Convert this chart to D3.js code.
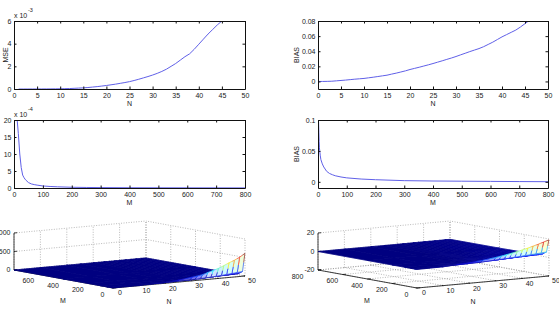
<!DOCTYPE html>
<html><head><meta charset="utf-8">
<script src="https://cdn.jsdelivr.net/npm/d3@7"></script>
<style>
body{margin:0;background:#fff}
svg{display:block}
text{font-family:"Liberation Sans",Arial,sans-serif;font-size:7px;fill:#222}
</style>
</head><body>
<svg id="c" width="559" height="314"></svg>
<script>
// ---------------- data ----------------
// MSE vs N (x 10^-3)
const mseN_N = [1,2,3,4,5,6,7,8,9,10,11,12,13,14,15,16,17,18,19,20,21,22,23,24,25,26,27,28,29,30,31,32,33,34,35,36,37,38,39,40,41,42,43,44,45];
const mseN_V = [0.000,0.000,0.001,0.002,0.003,0.005,0.007,0.010,0.014,0.02,0.03,0.04,0.06,0.08,0.1,0.13,0.17,0.21,0.26,0.31,0.37,0.43,0.50,0.57,0.65,0.75,0.86,0.98,1.1,1.23,1.38,1.55,1.75,2.0,2.25,2.55,2.85,3.1,3.5,3.95,4.4,4.85,5.25,5.65,6.0];
// BIAS vs N
const biasN_N = [0,1,2,3,4,5,6,7,8,9,10,11,12,13,14,15,16,17,18,19,20,21,22,23,24,25,26,27,28,29,30,31,32,33,34,35,36,37,38,39,40,41,42,43,44,45,46];
const biasN_V = [0,0,0.0001,0.0003,0.0008,0.0013,0.0018,0.0024,0.003,0.0035,0.004,0.0048,0.0056,0.0065,0.0074,0.0083,0.0097,0.011,0.0125,0.014,0.0158,0.0173,0.0188,0.0204,0.022,0.0237,0.0255,0.0273,0.0292,0.031,0.033,0.0352,0.0373,0.0395,0.0415,0.0435,0.046,0.049,0.052,0.0555,0.059,0.062,0.065,0.068,0.072,0.0765,0.081];
// MSE vs M (x 10^-4)
const mseM_M = [10,15,20,25,30,35,40,50,60,70,80,100,125,150,200,250,300,400,500,600,700,800];
const mseM_V = [21,16,10,6,3.8,3.0,2.4,1.6,1.2,1.0,0.85,0.6,0.45,0.35,0.22,0.16,0.12,0.08,0.06,0.05,0.04,0.03];
// BIAS vs M
const biasM_M = [1,2,3,4,5,6,8,10,15,20,30,40,50,60,80,100,150,200,300,400,500,600,700,800];
const biasM_V = [0.1,0.097,0.08,0.065,0.055,0.05,0.042,0.036,0.029,0.024,0.017,0.0135,0.0115,0.0098,0.0078,0.0064,0.0045,0.0034,0.0019,0.0013,0.001,0.0007,0.0004,0.0002];

// 3D surfaces: rows = M grid, columns = N grid
const surfM = [1,20,50,100,200,400,800];
const surfN = [0,10,20,25,30,32,34,36,38,40,42,44,46,48,50];
const mseSurf = [
  [0,0,20,50,95,115,140,185,225,270,330,395,450,520,610],
  [0,0,2,5,10,14,20,28,36,45,55,68,80,95,110],
  [0,0,1,2,4,5,7,9,12,15,18,22,26,31,36],
  [0,0,0,1,2,2,3,4,5,6,8,10,12,14,17],
  [0,0,0,0,1,1,1,2,2,3,4,5,6,7,8],
  [0,0,0,0,0,0,1,1,1,1,2,2,3,3,4],
  [0,0,0,0,0,0,0,0,0,1,1,1,1,2,2]
];
const biasSurf = [
  [0,0.3,1.9,3.4,5.3,6.2,7.2,8.3,9.5,10.8,12.2,13.8,15.4,17.2,19],
  [0,0.1,0.6,1,1.6,1.9,2.2,2.5,2.9,3.3,3.7,4.1,4.5,5,5.5],
  [0,0,0.3,0.5,0.8,0.9,1,1.2,1.4,1.6,1.8,2,2.2,2.4,2.7],
  [0,0,0.1,0.2,0.4,0.5,0.5,0.6,0.7,0.8,0.9,1,1.1,1.2,1.4],
  [0,0,0,0.1,0.2,0.2,0.3,0.3,0.4,0.4,0.5,0.5,0.6,0.6,0.7],
  [0,0,0,0,0.1,0.1,0.1,0.1,0.2,0.2,0.2,0.3,0.3,0.3,0.4],
  [0,0,0,0,0,0,0,0.1,0.1,0.1,0.1,0.1,0.1,0.2,0.2]
];

// tick values
const ticksN = [0,5,10,15,20,25,30,35,40,45,50];
const ticksM = [0,100,200,300,400,500,600,700,800];
const ticksMseN = [0,2,4,6];
const ticksBiasN = [0,0.02,0.04,0.06,0.08];
const ticksMseM = [0,5,10,15,20];
const ticksBiasM = [0,0.05,0.1];
const ticks3M = [0,200,400,600,800];
const ticks3N = [0,10,20,30,40,50];
const ticksMseZ = [0,500,1000];
const ticksBiasZ = [-20,0,20];

// ---------------- drawing ----------------
const svg = d3.select("#c");
const FONT = '"Liberation Sans",Arial,sans-serif';
let cid = 0;
const numFmt = d => String(+(+d).toFixed(4));

function panel2D(o){
  const x = d3.scaleLinear().domain(o.xd).range([o.x0,o.x1]);
  const y = d3.scaleLinear().domain(o.yd).range([o.y1,o.y0]);
  const g = svg.append("g");
  const id = "clip"+(cid++);
  svg.append("clipPath").attr("id",id).append("rect")
    .attr("x",o.x0).attr("y",o.y0).attr("width",o.x1-o.x0).attr("height",o.y1-o.y0);
  g.append("path").datum(d3.zip(o.xv,o.yv))
    .attr("clip-path",`url(#${id})`)
    .attr("d",d3.line().x(d=>x(d[0])).y(d=>y(d[1])))
    .attr("fill","none").attr("stroke","#6060e8").attr("stroke-width",1);
  const style = s => s.attr("font-size",7).attr("font-family",FONT).attr("color","#111")
      .call(a=>a.selectAll("text").attr("fill","#222"));
  g.append("g").attr("transform",`translate(0,${o.y1})`)
    .call(d3.axisBottom(x).tickValues(o.xt).tickSize(-2.5).tickSizeOuter(0).tickPadding(4).tickFormat(numFmt)).call(style);
  g.append("g").attr("transform",`translate(0,${o.y0})`)
    .call(d3.axisTop(x).tickValues(o.xt).tickSize(-2.5).tickSizeOuter(0).tickFormat("")).call(style);
  g.append("g").attr("transform",`translate(${o.x0},0)`)
    .call(d3.axisLeft(y).tickValues(o.yt).tickSize(-2.5).tickSizeOuter(0).tickPadding(2.5).tickFormat(numFmt)).call(style);
  g.append("g").attr("transform",`translate(${o.x1},0)`)
    .call(d3.axisRight(y).tickValues(o.yt).tickSize(-2.5).tickSizeOuter(0).tickFormat("")).call(style);
  if(o.xlab) g.append("text").attr("x",(o.x0+o.x1)/2).attr("y",o.y1+16.5).attr("text-anchor","middle").text(o.xlab);
  if(o.ylab) g.append("text").attr("transform",`translate(${o.ylabX},${(o.y0+o.y1)/2}) rotate(-90)`).attr("text-anchor","middle").text(o.ylab);
  if(o.exp){
    g.append("text").attr("x",o.x0).attr("y",o.y0-3.5).text("x 10");
    g.append("text").attr("x",o.x0+14).attr("y",o.y0-9).attr("font-size",5.5).style("font-size","5.5px").text(o.exp);
  }
}

panel2D({x0:14,x1:245,y0:21,y1:89,xd:[0,50],yd:[0,6],xt:ticksN,yt:ticksMseN,xv:mseN_N,yv:mseN_V,xlab:"N",ylab:"MSE",ylabX:8,exp:"-3"});
panel2D({x0:318,x1:548,y0:21,y1:89,xd:[0,50],yd:[-0.01,0.08],xt:ticksN,yt:ticksBiasN,xv:biasN_N,yv:biasN_V,xlab:"N",ylab:"BIAS",ylabX:299});
panel2D({x0:14,x1:245,y0:120,y1:188,xd:[0,800],yd:[0,20],xt:ticksM,yt:ticksMseM,xv:mseM_M,yv:mseM_V,xlab:"M",exp:"-4"});
panel2D({x0:318,x1:548,y0:120,y1:188,xd:[0,800],yd:[-0.01,0.1],xt:ticksM,yt:ticksBiasM,xv:biasM_M,yv:biasM_V,xlab:"M",ylab:"BIAS",ylabX:299});

function jet(t){
  t = Math.max(0,Math.min(1,t));
  const c = v => Math.round(255*Math.max(0,Math.min(1,v)));
  return d3.rgb(c(1.5-Math.abs(4*t-3)), c(1.5-Math.abs(4*t-2)), c(1.5-Math.abs(4*t-1)));
}

function panel3D(o){
  const mx = d3.scaleLinear().domain([0,800]).range([0,-99]);
  const my = d3.scaleLinear().domain([0,800]).range([0,-18]);
  const nx = d3.scaleLinear().domain([0,50]).range([0,132]);
  const ny = d3.scaleLinear().domain([0,50]).range([0,-12]);
  const zs = d3.scaleLinear().domain(o.zd).range([0,-37]);
  const P = (M,N,z) => [o.ox+mx(M)+nx(N), o.oy+my(M)+ny(N)+zs(z)];
  const g = svg.append("g");
  const z0 = o.zd[0], z1 = o.zd[1];
  const Mmax = 800, Nmax = 50;
  const seg = (a,b,cls) => g.append("line").attr("x1",a[0]).attr("y1",a[1]).attr("x2",b[0]).attr("y2",b[1])
      .attr("stroke",cls==="grid"?"#8a8a8a":"#111").attr("stroke-width",cls==="grid"?0.6:0.8)
      .attr("stroke-dasharray",cls==="grid"?"1,1.5":null);
  // grids
  ticks3M.forEach(M=>{ seg(P(M,0,z0),P(M,Nmax,z0),"grid"); seg(P(M,Nmax,z0),P(M,Nmax,z1),"grid"); });
  ticks3N.forEach(N=>{ seg(P(0,N,z0),P(Mmax,N,z0),"grid"); seg(P(Mmax,N,z0),P(Mmax,N,z1),"grid"); });
  o.zt.forEach(z=>{ seg(P(Mmax,0,z),P(Mmax,Nmax,z),"grid"); seg(P(0,Nmax,z),P(Mmax,Nmax,z),"grid"); });
  // axes
  seg(P(Mmax,0,z0),P(Mmax,0,z1),"axis");
  seg(P(0,0,z0),P(Mmax,0,z0),"axis");
  seg(P(0,0,z0),P(0,Nmax,z0),"axis");
  o.zt.forEach(z=>seg(P(Mmax,0,z),P(Mmax,1.2,z),"axis"));
  ticks3M.forEach(M=>seg(P(M,0,z0),P(M,1.2,z0),"axis"));
  ticks3N.forEach(N=>seg(P(0,N,z0),P(12,N,z0),"axis"));
  // surface
  const flat = o.Z.flat();
  const vmin = d3.min(flat), vmax = d3.max(flat);
  const norm = v => (v-vmin)/(vmax-vmin);
  const quads = [];
  for(let i=0;i<o.Mg.length-1;i++) for(let j=0;j<o.Ng.length-1;j++){
    const v = [[i,j],[i+1,j],[i+1,j+1],[i,j+1]].map(([a,b])=>({M:o.Mg[a],N:o.Ng[b],z:o.Z[a][b]}));
    const depth = P(d3.mean(v,d=>d.M), d3.mean(v,d=>d.N), z0)[1];
    quads.push({v,depth});
  }
  quads.sort((a,b)=>a.depth-b.depth);
  const sg = g.append("g");
  quads.forEach(q=>{
    const pts = q.v.map(p=>P(p.M,p.N,p.z));
    const zv = q.v.map(p=>p.z);
    const mean = d3.mean(zv);
    const w = Math.min(0.8, (d3.max(zv)-d3.min(zv))/(vmax-vmin)*2.5);
    const base = jet(norm(mean));
    const fill = d3.interpolateRgb(base,"#ffffff")(w);
    sg.append("polygon").attr("points",pts.map(p=>p.join(",")).join(" "))
      .attr("fill",fill).attr("stroke",fill).attr("stroke-width",0.4);
    for(let k=0;k<4;k++){
      const a=q.v[k], b=q.v[(k+1)%4];
      const pa=pts[k], pb=pts[(k+1)%4];
      const mid=[(pa[0]+pb[0])/2,(pa[1]+pb[1])/2];
      sg.append("line").attr("x1",pa[0]).attr("y1",pa[1]).attr("x2",mid[0]).attr("y2",mid[1])
        .attr("stroke",jet(norm(a.z))).attr("stroke-width",0.6);
      sg.append("line").attr("x1",mid[0]).attr("y1",mid[1]).attr("x2",pb[0]).attr("y2",pb[1])
        .attr("stroke",jet(norm(b.z))).attr("stroke-width",0.6);
    }
  });
  // labels
  const lab = g.append("g");
  ticks3M.forEach(M=>{
    const p=P(M,0,z0);
    lab.append("text").attr("x",p[0]-10.5-(M===Mmax?10:0)).attr("y",p[1]+6.5).attr("dy","0.35em").attr("text-anchor","middle").text(M);
  });
  ticks3N.forEach(N=>{
    const p=P(0,N,z0);
    lab.append("text").attr("x",p[0]+7).attr("y",p[1]+5).attr("dy","0.35em").attr("text-anchor","middle").text(N);
  });
  o.zt.forEach(z=>{
    const p=P(Mmax,0,z);
    lab.append("text").attr("x",p[0]-3.5).attr("y",p[1]).attr("dy","0.35em").attr("text-anchor","end").text(z);
  });
  lab.append("text").attr("x",o.ox-50).attr("y",o.oy+13).attr("dy","0.35em").attr("text-anchor","middle").text("M");
  lab.append("text").attr("x",o.ox+56).attr("y",o.oy+14).attr("dy","0.35em").attr("text-anchor","middle").text("N");
}

panel3D({ox:113,oy:288,zd:[0,1000],zt:ticksMseZ,Mg:surfM,Ng:surfN,Z:mseSurf});
panel3D({ox:417,oy:288,zd:[-20,20],zt:ticksBiasZ,Mg:surfM,Ng:surfN,Z:biasSurf});
</script>
</body></html>
